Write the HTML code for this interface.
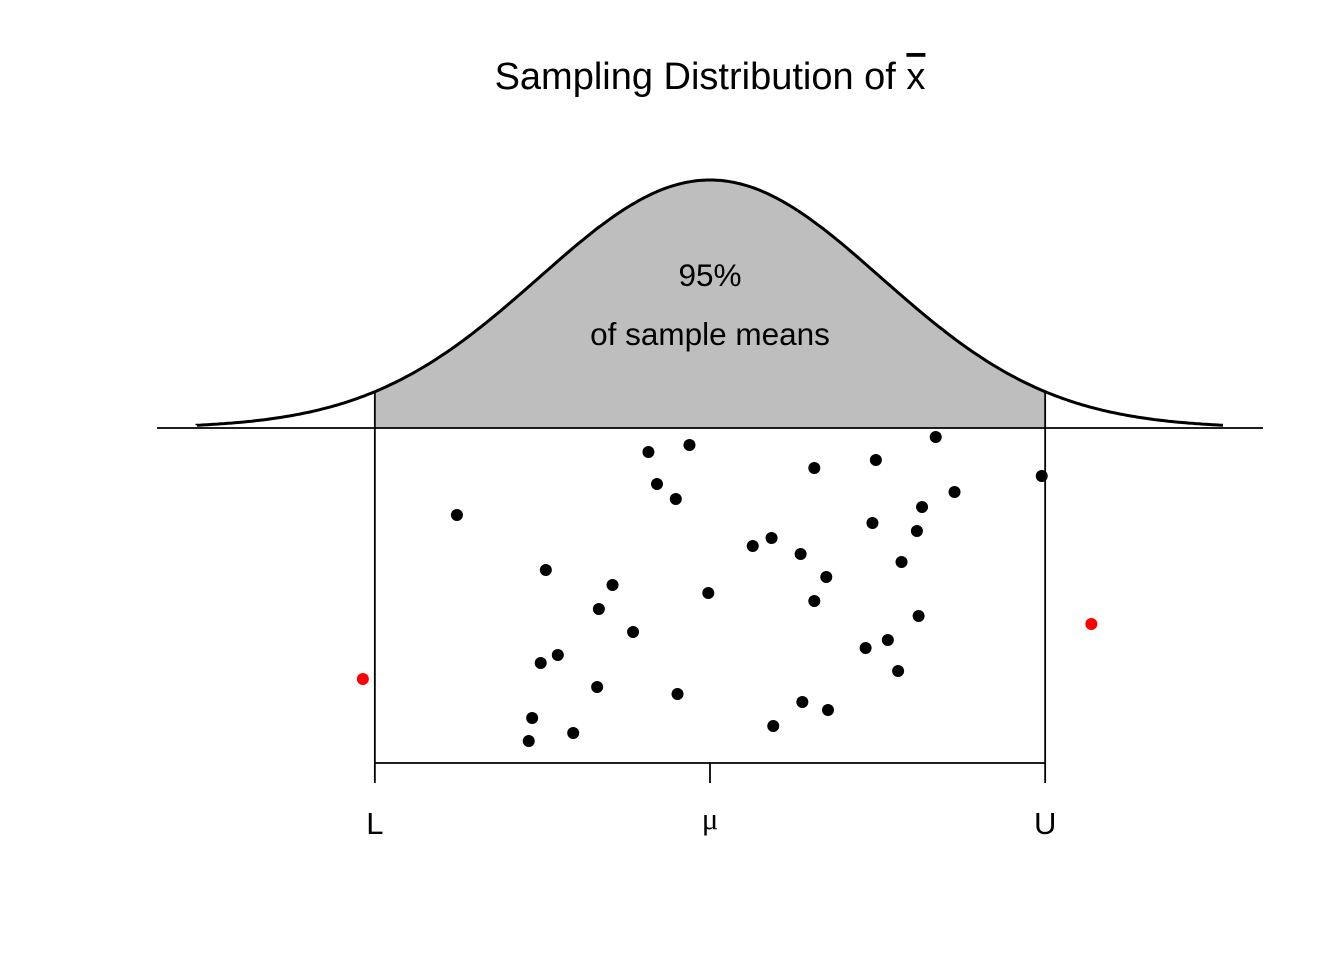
<!DOCTYPE html>
<html><head><meta charset="utf-8"><style>
body{margin:0;background:#fff}
svg{display:block;font-family:"Liberation Sans",Arial,sans-serif}
</style></head><body>
<svg id="chart" width="1344" height="960" viewBox="0 0 1344 960">
<rect width="1344" height="960" fill="#fff"/>
<text x="710" y="89" text-anchor="middle" font-size="38">Sampling Distribution of <tspan style="text-decoration:overline">x</tspan></text>
<g id="curve"></g>
<g id="frame"></g>
<g id="points"></g>
<text x="710" y="286" text-anchor="middle" font-size="31.5">95%</text>
<text x="710" y="345" text-anchor="middle" font-size="31.5">of sample means</text>
</svg>
<script>
// sample means in sigma units from mu
const sampleX = [-1.48,-0.96,-0.36,-0.12,-0.31,-0.20,-0.57,-0.65,-0.45,-0.99,-0.89,-0.66,-1.04,-1.06,-0.80,-0.01,-0.19,0.25,0.36,0.53,0.68,0.61,0.61,0.97,1.32,1.43,1.24,0.95,1.21,1.12,1.22,1.04,0.91,1.10,0.54,0.69,0.37,1.94,-2.03,2.23];
// vertical jitter position (0 = top, 335 = bottom)
const sampleY = [87,142,24,17,56,71,157,181,204,235,227,259,290,313,305,165,266,118,110,126,149,173,40,32,9,64,79,95,103,134,188,212,220,243,274,282,298,48,251,196];
const tickLabels = ["L","μ","U"];
const tickZ = [-1.96,0,1.96];
const crit = 1.96;

const NS="http://www.w3.org/2000/svg";
const cx=710, sig=171, base=428, peak=248;
const xs=z=>cx+z*sig;
const ys=v=>base+v;
const dens=z=>base-peak*Math.exp(-z*z/2);
function mk(tag,attrs,parent){const e=document.createElementNS(NS,tag);for(const k in attrs)e.setAttribute(k,attrs[k]);parent.appendChild(e);return e;}
const curveG=document.getElementById('curve'), frameG=document.getElementById('frame'), ptsG=document.getElementById('points');
let d=`M${xs(-crit)},${base}`;
for(let z=-crit;z<=crit+1e-9;z+=0.02)d+=` L${xs(z).toFixed(1)},${dens(z).toFixed(1)}`;
d+=` L${xs(crit)},${base} Z`;
const area=mk('path',{d:d,fill:'#bebebe',stroke:'none'},curveG);


let c=`M${xs(-3)},${dens(-3)}`;
for(let z=-3;z<=3+1e-9;z+=0.02)c+=` L${xs(z).toFixed(1)},${dens(z).toFixed(1)}`;
const line=mk('path',{d:c,fill:'none',stroke:'#000','stroke-width':3},curveG);


const ax=mk('line',{x1:157,y1:base,x2:1263,y2:base,stroke:'#000','stroke-width':1.8},curveG);


const bottom=763;
[-crit,crit].forEach(z=>{
  const v=mk('line',{x1:xs(z),y1:dens(z),x2:xs(z),y2:bottom,stroke:'#000','stroke-width':1.8},frameG);
  
  
});
const bl=mk('line',{x1:xs(-crit),y1:bottom,x2:xs(crit),y2:bottom,stroke:'#000','stroke-width':1.8},frameG);


tickZ.forEach((z,i)=>{
  const t=mk('line',{x1:xs(z),y1:bottom,x2:xs(z),y2:bottom+20,stroke:'#000','stroke-width':1.8},frameG);
  
  
  const isMu=tickLabels[i]==='μ';
  const lab=mk('text',{x:xs(z),y:isMu?829:834,'text-anchor':'middle','font-size':31,'font-family':isMu?'"Liberation Serif",serif':'"Liberation Sans",sans-serif'},frameG);
  lab.textContent=tickLabels[i];
  
  
});
sampleX.forEach((z,i)=>{
  const p=mk('circle',{cx:xs(z),cy:ys(sampleY[i]),r:6,fill:Math.abs(z)>crit?'#ff0000':'#000'},ptsG);
  
  
});
</script>
</body></html>
